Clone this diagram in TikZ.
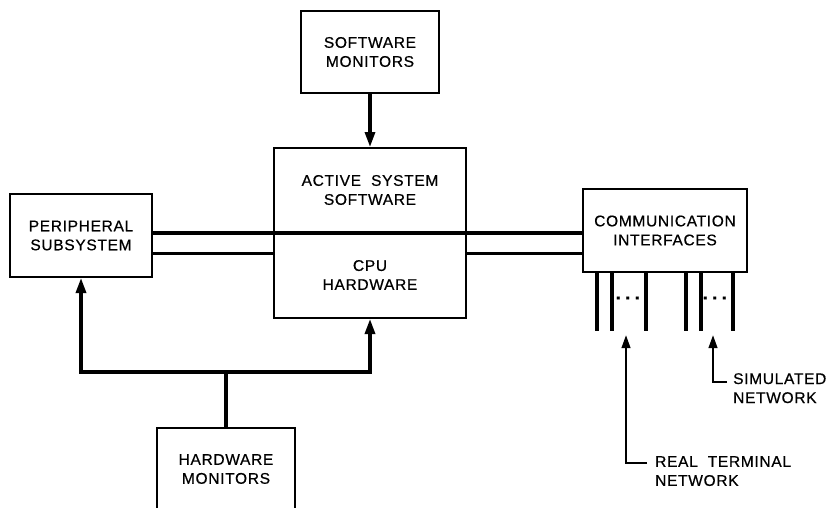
\documentclass[tikz,border=0pt]{standalone}
\usepackage{fontspec}
\setmainfont{Liberation Sans}[LetterSpace=4.5, FakeBold=0.6]
\usetikzlibrary{arrows.meta}

\tikzset{
  box/.style={draw, line width=2pt, align=center, inner sep=0pt},
  bus/.style={line width=3.2pt},
  conn/.style={bus, -{Triangle[length=15pt,width=10pt]}},
  tagconn/.style={line width=2.4pt, -{Triangle[length=13pt,width=8.5pt]}},
  lbl/.style={align=left, inner sep=0pt, anchor=north west}
}

\begin{document}
\begin{tikzpicture}[x=1pt, y=-1pt, font=\fontsize{15.5}{19}\selectfont]
\useasboundingbox (0,0) rectangle (830,507);
\clip (0,0) rectangle (830,507);

\node (softmon) [box, minimum width=138pt, minimum height=82pt] at (370,52) {SOFTWARE\\MONITORS};
\node (asw) [box, minimum width=192pt, minimum height=84pt] at (370,190) {ACTIVE\ \ SYSTEM\\SOFTWARE};
\node (cpuhw) [box, minimum width=192pt, minimum height=86pt] at (370,275) {CPU\\HARDWARE};
\node (peri) [box, minimum width=142pt, minimum height=83pt] at (81,235.5) {PERIPHERAL\\SUBSYSTEM};
\node (comm) [box, minimum width=164pt, minimum height=83pt] at (665,230.5) {COMMUNICATION\\INTERFACES};
\node (hwmon) [box, minimum width=138pt, minimum height=82pt] at (226,469) {HARDWARE\\MONITORS};

\draw[bus] (peri.east |- asw.south) -- (comm.west |- asw.south);
\coordinate (lowbus) at (0,253.5);
\draw[bus] (peri.east |- lowbus) -- (cpuhw.west |- lowbus);
\draw[bus] (cpuhw.east |- lowbus) -- (comm.west |- lowbus);

\draw[conn] (softmon) -- (asw);

\coordinate (tap) at (226,372);
\draw[bus] (hwmon) -- (tap);
\draw[conn] (tap) -| (peri);
\draw[conn] (tap) -| (cpuhw);

\foreach \dx in {15,30,64,104,119,151}
  \draw[bus] ([xshift=\dx pt]comm.south west) -- ++(0,58);
\node (dotsa) at (630,298) {\fontsize{18}{18}\selectfont\addfontfeature{LetterSpace=25}\textbf{...}};
\node (dotsb) at (717,298) {\fontsize{18}{18}\selectfont\addfontfeature{LetterSpace=25}\textbf{...}};

\node (realnet) [lbl] at (655,456) {REAL\ \ TERMINAL\\NETWORK};
\node (simnet) [lbl] at (733,373) {SIMULATED\\NETWORK};
\coordinate (realtip) at (626,335);
\coordinate (simtip) at (713,335);
\draw[tagconn] ([shift={(-8,7)}]realnet.north west) -| (realtip);
\draw[tagconn] ([shift={(-6,9)}]simnet.north west) -| (simtip);
\end{tikzpicture}
\end{document}
